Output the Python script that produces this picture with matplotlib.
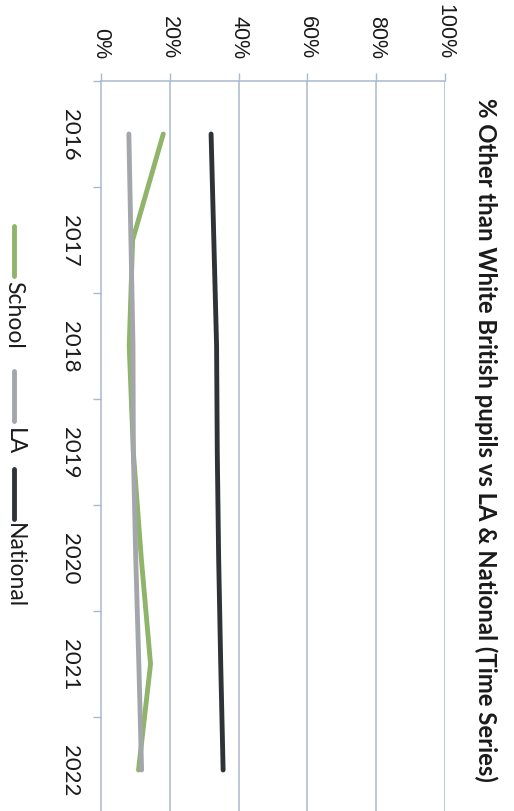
import matplotlib
matplotlib.use("Agg")
import matplotlib.pyplot as plt
from matplotlib.lines import Line2D
from matplotlib.ticker import PercentFormatter, FixedLocator, NullFormatter, FixedFormatter

# ---- data ----
years = ["2016", "2017", "2018", "2019", "2020", "2021", "2022"]
school = [0.181, 0.092, 0.082, 0.094, 0.117, 0.144, 0.109]
la = [0.081, 0.087, 0.093, 0.094, 0.101, 0.110, 0.118]
national = [0.320, 0.328, 0.336, 0.338, 0.342, 0.348, 0.355]
series_names = ["School", "LA", "National"]
title = "% Other than White British pupils vs LA & National (Time Series)"

W, H = 514, 812
fig = plt.figure(figsize=(W / 100, H / 100), dpi=100)
fig.patch.set_facecolor("white")

def fx(px):
    return px / W

def fy(py):
    return 1 - py / H

ax_top, ax_bot = 82, 824
ax_left, ax_right = 101, 445
ax = fig.add_axes([fx(ax_left), fy(ax_bot), fx(ax_right - ax_left), (ax_bot - ax_top) / H])
ax.set_facecolor("white")

grid_col = "#a9b9cf"
colors = ["#8fb46a", "#a3a7ab", "#2f3236"]
idx = list(range(len(years)))
lines = []
for vals, c, name in zip([school, la, national], colors, series_names):
    ln, = ax.plot(vals, idx, color=c, lw=3.5, solid_capstyle="round",
                  solid_joinstyle="round", label=name, zorder=3)
    lines.append(ln)

ax.set_xlim(0, 1)
ax.set_ylim(len(years) - 0.5, -0.5)

# value axis on top
ax.xaxis.tick_top()
ax.xaxis.set_major_locator(FixedLocator([0, 0.2, 0.4, 0.6, 0.8, 1.0]))
ax.xaxis.set_major_formatter(PercentFormatter(1.0, decimals=0))
ax.tick_params(axis="x", which="major", top=True, bottom=False, labeltop=True,
               labelbottom=False, length=5.8, width=1.0, color=grid_col, pad=11,
               labelrotation=270, labelsize=15.5, labelcolor="#1a1a1a")
for lbl in ax.get_xticklabels():
    lbl.set_fontfamily("Liberation Sans")

# category axis on left
bounds = [i - 0.5 for i in range(len(years) + 1)]
ax.yaxis.set_major_locator(FixedLocator(bounds))
ax.yaxis.set_major_formatter(NullFormatter())
ax.yaxis.set_minor_locator(FixedLocator(idx))
ax.yaxis.set_minor_formatter(FixedFormatter(years))
ax.tick_params(axis="y", which="major", left=True, length=5.8, width=1.0, color=grid_col)
ax.tick_params(axis="y", which="minor", left=True, length=0, pad=15,
               labelrotation=270, labelsize=16, labelcolor="#1a1a1a")
for lbl in ax.get_yticklabels(minor=True):
    lbl.set_fontfamily("Lato")
    lbl.set_va("center")

# grid lines
for v in [0.2, 0.4, 0.6, 0.8, 1.0]:
    ax.axvline(v, color=grid_col, lw=1.1, zorder=1)

for s in ["right", "bottom"]:
    ax.spines[s].set_visible(False)
ax.spines["top"].set_color(grid_col)
ax.spines["left"].set_color(grid_col)
ax.spines["top"].set_linewidth(1.1)
ax.spines["left"].set_linewidth(1.1)

# title, rotated, fitted to target length
t = fig.text(fx(486), fy(440), title, rotation=270, ha="center", va="center",
             fontsize=15, fontweight="bold", family="Lato", color="#1a1a1a")
fig.canvas.draw()
ext = t.get_window_extent()
target = 686
t.set_fontsize(15 * target / ext.height)

# legend (rotated, drawn manually)
leg = [(227, 277, 281), (372, 422, 428), (470, 520, 523)]
for ln, (y0, y1, ty) in zip(lines, leg):
    fig.add_artist(Line2D([fx(14), fx(14)], [fy(y0), fy(y1)], transform=fig.transFigure,
                          color=ln.get_color(), lw=3.5, solid_capstyle="round"))
    fig.text(fx(14), fy(ty), ln.get_label(), rotation=270, ha="center", va="top",
             fontsize=16.5, family="Lato", color="#1a1a1a")

fig.savefig("out.png", dpi=100, facecolor="white")
